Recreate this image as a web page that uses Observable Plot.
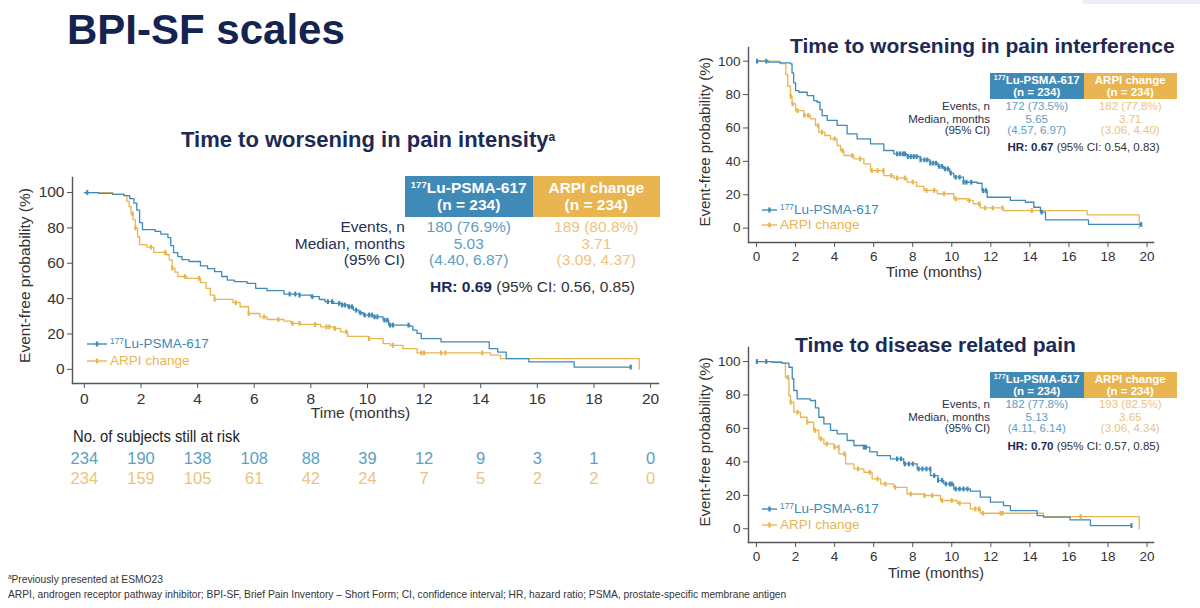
<!DOCTYPE html>
<html>
<head>
<meta charset="utf-8">
<script src="https://cdn.jsdelivr.net/npm/d3@7"></script>
<script src="https://cdn.jsdelivr.net/npm/@observablehq/plot@0.6"></script>
<style>
  html, body { margin: 0; padding: 0; background: #fff; }
  body { position: relative; width: 1200px; height: 608px; overflow: hidden;
         font-family: "Liberation Sans", Arial, sans-serif; color: #333; }
  .abs { position: absolute; white-space: nowrap; line-height: 1; }
  .sup { font-size: 0.62em; vertical-align: 0.5em; }
  .hdr { position: absolute; display: flex; flex-direction: column; justify-content: center;
         align-items: center; color: #fff; font-weight: bold; line-height: 1.05; }
  .narrow { transform-origin: 0 0; }
</style>
</head>
<body>
<div id="root"></div>
<script>
// ---------- shared values ----------
const months = [0, 2, 4, 6, 8, 10, 12, 14, 16, 18, 20];
const probTicks = [0, 20, 40, 60, 80, 100];
const atRiskLu = [234, 190, 138, 108, 88, 39, 12, 9, 3, 1, 0];
const atRiskArpi = [234, 159, 105, 61, 42, 24, 7, 5, 2, 2, 0];

// ---------- Time to worsening in pain intensity ----------
const intensityLuT = [0, 0.5, 1.0, 1.4, 1.6, 1.75, 1.85, 1.95, 2.05, 2.5, 2.7, 2.95, 3.05, 3.15, 3.3, 3.45, 3.7, 4.1, 4.35, 4.6, 4.85, 5.05, 5.3, 5.75, 6.05, 6.45, 7.05, 7.6, 8.0, 8.3, 8.5, 8.8, 9.1, 9.3, 9.5, 9.7, 9.85, 10.2, 10.55, 10.75, 11.5, 11.6, 11.75, 11.9, 12.6, 14.3, 14.6, 14.9, 15.7, 17.3, 19.3];
const intensityLuS = [100, 99.5, 99, 98.3, 96.5, 94, 90, 83, 79, 78, 76.5, 74.5, 70, 66, 63.8, 62, 61, 58.5, 57, 55.3, 52.5, 50.5, 49.6, 48.6, 45.8, 44.5, 42.6, 42, 41.1, 39.5, 38.3, 37.3, 36.4, 35.4, 33.5, 32, 30.7, 29.7, 27.8, 25, 24.4, 22.2, 20.3, 17.4, 15.5, 11.7, 9.8, 6.1, 4.2, 1.3, 1.3];
const intensityLuCens = [0.1, 7.25, 7.45, 7.6, 8.05, 8.6, 8.75, 9.0, 9.1, 9.2, 9.35, 9.45, 9.6, 9.75, 9.9, 10.05, 10.15, 10.25, 10.35, 10.6, 10.7, 10.8, 10.9, 11.45, 19.3];
const intensityArT = [0, 1.0, 1.4, 1.5, 1.58, 1.65, 1.72, 1.8, 1.88, 1.95, 2.2, 2.45, 2.9, 3.0, 3.1, 3.2, 3.3, 3.62, 4.1, 4.3, 4.45, 4.6, 5.25, 5.5, 5.8, 6.2, 6.45, 7.05, 7.3, 7.65, 8.35, 8.8, 9.05, 9.3, 10.05, 10.55, 10.8, 11.25, 11.75, 14.35, 14.7, 19.6];
const intensityArS = [100, 99, 98.3, 95, 92, 88, 84.7, 80, 75, 70.5, 69.1, 66.1, 64.8, 61.9, 57.2, 55, 52.5, 51.5, 49, 45.8, 42, 39.6, 37.7, 35.4, 31.6, 29.7, 28.2, 27.3, 26, 25.4, 24, 23.1, 21.2, 18.6, 17.4, 14.6, 13.6, 11.7, 9.3, 8, 6.1, 0];
const intensityArCens = [1.7, 1.8, 2.35, 2.85, 3.1, 3.55, 4.05, 4.6, 5.35, 5.8, 6.35, 6.85, 7.35, 7.6, 8.15, 8.55, 8.65, 8.85, 9.25, 10.05, 10.9, 11.9, 12.0, 12.6, 12.75, 14.05];

// ---------- Time to worsening in pain interference ----------
const interferenceLuT = [0, 0.6, 1.2, 1.74, 1.82, 1.9, 2.0, 2.17, 2.6, 2.93, 3.1, 3.25, 3.36, 3.62, 4.13, 4.64, 5.15, 5.84, 6.52, 7.03, 7.71, 8.4, 8.9, 9.3, 9.59, 9.9, 10.1, 10.6, 11.3, 11.55, 11.81, 13.0, 13.77, 14.2, 14.54, 14.8, 17.0, 19.7];
const interferenceLuS = [100, 99.5, 99, 98.4, 93, 87, 82.4, 81.4, 79.4, 76.4, 75.4, 71, 67.4, 64.5, 61.5, 56.5, 53.5, 50.5, 46.5, 44.5, 42.9, 40.9, 38.9, 37, 35.5, 33, 30.5, 27.5, 26.9, 22.5, 18.5, 16.6, 15.5, 12.5, 9.6, 5, 2.2, 2.2];
const interferenceLuCens = [0.03, 0.5, 7.2, 7.35, 7.5, 7.6, 7.75, 7.9, 8.05, 8.2, 8.4, 8.6, 8.75, 8.9, 9.05, 9.2, 9.35, 9.5, 9.65, 9.8, 9.95, 10.2, 10.4, 10.6, 10.75, 11.0, 11.6, 11.75, 14.6, 19.7];
const interferenceArT = [0, 1.2, 1.5, 1.6, 1.74, 1.82, 2.0, 2.42, 2.76, 3.02, 3.19, 3.5, 3.79, 4.13, 4.3, 4.47, 4.99, 5.5, 5.84, 6.52, 7.03, 7.71, 8.2, 8.57, 9.25, 10.1, 10.78, 11.1, 11.46, 12.65, 16.93, 19.6];
const interferenceArS = [100, 98.5, 92, 85, 79, 74.4, 70.4, 67.5, 65.5, 61.5, 57.5, 55.5, 53.5, 49.5, 46.5, 43.5, 41.5, 38.5, 34.5, 31.5, 30, 27.6, 25, 22.6, 20.6, 17.6, 16.6, 14.6, 12.1, 10.5, 8, 0];
const interferenceArCens = [1.75, 1.85, 2.1, 2.45, 2.65, 3.15, 3.35, 4.0, 4.4, 4.9, 5.3, 5.9, 6.2, 6.5, 6.9, 7.2, 7.6, 8.0, 8.7, 9.1, 9.6, 10.2, 10.9, 11.4, 11.7, 12.1, 12.6, 14.1];

// ---------- Time to disease related pain ----------
const diseaseLuT = [0, 0.8, 1.3, 1.66, 1.83, 1.91, 2.08, 2.76, 3.02, 3.19, 3.45, 3.79, 4.13, 4.64, 4.99, 5.5, 5.8, 6.18, 6.86, 7.54, 8.23, 8.91, 9.3, 9.59, 10.1, 10.95, 11.46, 11.98, 12.65, 13.0, 14.37, 14.7, 16.06, 17.1, 19.2];
const diseaseLuS = [100, 99.5, 99, 96.6, 89.7, 82.7, 77.7, 76.7, 72.3, 66.7, 62.7, 58.8, 56.8, 52.8, 49.8, 48.8, 46, 43.8, 41.8, 38.8, 35.8, 31.8, 29, 26.8, 23.8, 22.5, 18.9, 15.9, 13.9, 10.9, 7.9, 7, 5.3, 1.9, 1.9];
const diseaseLuCens = [0.02, 0.5, 5.5, 5.6, 7.2, 7.4, 7.6, 7.8, 8.0, 8.3, 8.5, 8.7, 8.9, 9.1, 9.3, 9.5, 9.7, 9.9, 10.0, 10.2, 10.4, 10.6, 10.8, 19.2];
const diseaseArT = [0, 1.3, 1.48, 1.66, 1.74, 1.91, 2.25, 2.59, 2.93, 3.19, 3.45, 3.96, 4.22, 4.56, 4.99, 5.5, 5.92, 6.35, 7.03, 7.71, 8.57, 9.42, 10.27, 10.95, 11.46, 14.7, 19.6];
const diseaseArS = [100, 99, 90.6, 79.7, 75.7, 69.7, 66.7, 63.7, 58.8, 53.8, 50.8, 48.8, 44.8, 38.8, 35.8, 33.8, 29.8, 26.8, 24.8, 20.8, 19.9, 16.9, 15.3, 11.9, 9.3, 7.3, 0];
const diseaseArCens = [1.6, 1.75, 2.1, 2.6, 3.0, 3.3, 3.6, 4.0, 4.2, 4.5, 5.2, 5.8, 6.2, 6.6, 7.1, 7.9, 8.6, 9.0, 9.5, 10.0, 10.4, 11.2, 11.4, 11.6, 12.5, 12.6, 16.6];

// ---------- summary tables ----------
const tableRowLabels = ["Events, n", "Median, months", "(95% CI)"];
const intensityLuStats = ["180 (76.9%)", "5.03", "(4.40, 6.87)"];
const intensityArStats = ["189 (80.8%)", "3.71", "(3.09, 4.37)"];
const intensityHR = ["0.69", "0.56, 0.85"];
const interferenceLuStats = ["172 (73.5%)", "5.65", "(4.57, 6.97)"];
const interferenceArStats = ["182 (77.8%)", "3.71", "(3.06, 4.40)"];
const interferenceHR = ["0.67", "0.54, 0.83"];
const diseaseLuStats = ["182 (77.8%)", "5.13", "(4.11, 6.14)"];
const diseaseArStats = ["193 (82.5%)", "3.65", "(3.06, 4.34)"];
const diseaseHR = ["0.70", "0.57, 0.85"];

const BLUE = "#3f8ab6", ORANGE = "#e9b551";
const BLUE_TXT = "#5d9ec6", ORANGE_TXT = "#ecc47c";
const NAVY = "#1c2a55";
const FONT = "'Liberation Sans', Arial, sans-serif";

const root = document.getElementById("root");
function el(html, style) {
  const d = document.createElement("div");
  d.className = "abs";
  d.innerHTML = html;
  Object.assign(d.style, style);
  root.appendChild(d);
  return d;
}
function place(node, left, top) {
  const w = document.createElement("div");
  w.style.position = "absolute"; w.style.left = left + "px"; w.style.top = top + "px";
  w.appendChild(node);
  root.appendChild(w);
}

// value of a step survival curve at time t
function stepAt(ts, ss, t) {
  let v = ss[0];
  for (let i = 0; i < ts.length; i++) { if (ts[i] <= t) v = ss[i]; else break; }
  return v;
}
// short vertical stroke used for censoring marks
const censorTick = { draw(ctx, size) { const r = Math.sqrt(size / Math.PI); ctx.moveTo(0, -r); ctx.lineTo(0, r); } };

function kmPlot(c) {
  const rows = (ts, ss, arm) => ts.map((t, i) => ({ t, s: ss[i], arm }));
  const curves = [...rows(c.arT, c.arS, "ar"), ...rows(c.luT, c.luS, "lu")];
  const cens = [
    ...c.arC.map(t => ({ t, s: stepAt(c.arT, c.arS, t), arm: "ar" })),
    ...c.luC.map(t => ({ t, s: stepAt(c.luT, c.luS, t), arm: "lu" }))
  ];
  return Plot.plot({
    width: c.width, height: c.height,
    marginLeft: c.ml, marginRight: c.mr, marginTop: c.mt, marginBottom: c.mb,
    x: { domain: c.xDomain },
    y: { domain: c.yDomain },
    color: { domain: ["lu", "ar"], range: [BLUE, ORANGE] },
    style: { fontFamily: FONT, fontSize: c.tickFont + "px", color: "#333", background: "transparent", overflow: "visible" },
    marks: [
      Plot.frame({ anchor: "bottom", stroke: "#555", strokeWidth: 1.4 }),
      Plot.frame({ anchor: "left", stroke: "#555", strokeWidth: 1.4 }),
      Plot.axisX({ ticks: months, tickSize: 5, tickPadding: 4, label: null, stroke: "#555" }),
      Plot.axisY({ ticks: probTicks, tickSize: 5, tickPadding: 3, label: null, stroke: "#555" }),
      Plot.text(["Time (months)"], { frameAnchor: "bottom", lineAnchor: "middle", textAnchor: "middle", dx: c.xLabelDx, dy: c.xLabelDy, text: d => d, fontSize: c.labelFont, fill: "#333" }),
      Plot.text(["Event-free probability (%)"], { frameAnchor: "left", textAnchor: "middle", lineAnchor: "middle", dx: c.yLabelDx, dy: c.yLabelDy, rotate: -90, text: d => d, fontSize: c.labelFont, fill: "#333" }),
      Plot.line(curves, { x: "t", y: "s", z: "arm", stroke: "arm", curve: "step-after", strokeWidth: 1.3 }),
      Plot.dot(cens, { x: "t", y: "s", stroke: "arm", symbol: censorTick, r: 2.4, strokeWidth: 2.2 })
    ]
  });
}

// ---------- slide title ----------
el("BPI-SF scales", { left: "67px", top: "9px", fontSize: "42px", fontWeight: "bold", color: "#152350" });

// ---------- main chart ----------
el("Time to worsening in pain intensity<span class='sup' style='font-size:0.55em'>a</span>",
   { left: "181px", top: "129px", fontSize: "22px", fontWeight: "bold", color: NAVY });

place(kmPlot({
  width: 680, height: 260, ml: 72, mr: 22, mt: 7, mb: 47,
  xDomain: [-0.42, 20.28], yDomain: [-8, 108.5],
  tickFont: 15.5, labelFont: 15.5, xLabelDx: -5, xLabelDy: 30, yLabelDx: -47, yLabelDy: -5,
  luT: intensityLuT, luS: intensityLuS, luC: intensityLuCens,
  arT: intensityArT, arS: intensityArS, arC: intensityArCens
}), 0, 170);

// at-risk counts share the main chart's x scale
const atRiskRows = [
  ...months.map((m, i) => ({ m, n: atRiskLu[i], arm: "lu" })),
  ...months.map((m, i) => ({ m, n: atRiskArpi[i], arm: "ar" }))
];
place(Plot.plot({
  width: 680, height: 44, marginLeft: 72, marginRight: 22, marginTop: 0, marginBottom: 0,
  x: { domain: [-0.42, 20.28], axis: null },
  y: { type: "point", domain: ["lu", "ar"], range: [12, 32], padding: 0, axis: null },
  color: { domain: ["lu", "ar"], range: [BLUE_TXT, ORANGE_TXT] },
  style: { fontFamily: FONT, background: "transparent" },
  marks: [Plot.text(atRiskRows, { x: "m", y: "arm", text: "n", fill: "arm", fontSize: 16.5 })]
}), 0, 446);
el("No. of subjects still at risk", { left: "73px", top: "428px", fontSize: "17px", color: "#222", transform: "scaleX(0.87)" }).classList.add("narrow");

// ---------- summary tables and legends ----------
function statsTable(o) {
  const s = o.font;
  const colW = o.colW;
  const hdr = (x, bg, name) => {
    const d = document.createElement("div");
    d.className = "hdr";
    Object.assign(d.style, { left: x + "px", top: o.boxTop + "px", width: colW + "px", height: o.boxH + "px", background: bg, fontSize: s + "px" });
    d.innerHTML = name;
    root.appendChild(d);
  };
  hdr(o.x, BLUE, "<div><span class='sup'>177</span>Lu-PSMA-617</div><div>(n = 234)</div>");
  hdr(o.x + colW, ORANGE, "<div>ARPI change</div><div>(n = 234)</div>");
  tableRowLabels.forEach((lab, i) => {
    const top = o.rowY[i] - 0.49 * s;
    el(lab, { right: (1200 - o.x) + "px", top: top + "px", fontSize: s + "px", color: "#27304e" });
    el(o.lu[i], { left: o.x + "px", width: colW + "px", textAlign: "center", top: top + "px", fontSize: s + "px", color: BLUE_TXT });
    el(o.ar[i], { left: (o.x + colW) + "px", width: colW + "px", textAlign: "center", top: top + "px", fontSize: s + "px", color: ORANGE_TXT });
  });
  el(`<b style="color:${NAVY}">HR: ${o.hr[0]}</b> (95% CI: ${o.hr[1]})`,
     { left: o.x + "px", width: (2 * colW) + "px", textAlign: "center", top: (o.hrY - 0.49 * s) + "px", fontSize: s + "px", color: "#333" });
}
function legend(x, y1, y2, font, lineW) {
  const item = (y, color, label) => {
    el(`<svg width="${lineW}" height="10" style="vertical-align:middle;overflow:visible"><line x1="0" y1="5" x2="${lineW}" y2="5" stroke="${color}" stroke-width="1.4"/><line x1="${lineW / 2}" y1="2.5" x2="${lineW / 2}" y2="7.5" stroke="${color}" stroke-width="2.4"/></svg><span style="margin-left:3px">${label}</span>`,
       { left: x + "px", top: (y - 0.55 * font) + "px", fontSize: font + "px", color });
  };
  item(y1, BLUE, "<span class='sup'>177</span>Lu-PSMA-617");
  item(y2, ORANGE, "ARPI change");
}

statsTable({ x: 405, colW: 127.5, boxTop: 176, boxH: 41, font: 15.5, rowY: [227, 244, 260], hrY: 287,
             lu: intensityLuStats, ar: intensityArStats, hr: intensityHR });
legend(87, 344, 361, 13.5, 20);

// ---------- top right chart ----------
el("Time to worsening in pain interference", { left: "790px", top: "35px", fontSize: "21px", fontWeight: "bold", color: NAVY });
place(kmPlot({
  width: 510, height: 250, ml: 58, mr: 47, mt: 7, mb: 48,
  xDomain: [-0.41, 20.33], yDomain: [-8.6, 108.2],
  tickFont: 13.5, labelFont: 15, xLabelDx: -17, xLabelDy: 30, yLabelDx: -43, yLabelDy: -3,
  luT: interferenceLuT, luS: interferenceLuS, luC: interferenceLuCens,
  arT: interferenceArT, arS: interferenceArS, arC: interferenceArCens
}), 690, 40);
statsTable({ x: 990, colW: 93.5, boxTop: 73, boxH: 26, font: 11.5, rowY: [107, 120, 131], hrY: 148,
             lu: interferenceLuStats, ar: interferenceArStats, hr: interferenceHR });
legend(762, 210, 225, 13.5, 15);

// ---------- bottom right chart ----------
el("Time to disease related pain", { left: "795px", top: "334px", fontSize: "21px", fontWeight: "bold", color: NAVY });
place(kmPlot({
  width: 510, height: 250, ml: 58, mr: 47, mt: 7, mb: 48,
  xDomain: [-0.41, 20.33], yDomain: [-8.2, 108.4],
  tickFont: 13.5, labelFont: 15, xLabelDx: -15, xLabelDy: 31, yLabelDx: -43, yLabelDy: -3,
  luT: diseaseLuT, luS: diseaseLuS, luC: diseaseLuCens,
  arT: diseaseArT, arS: diseaseArS, arC: diseaseArCens
}), 690, 340);
statsTable({ x: 990, colW: 93.5, boxTop: 372, boxH: 26, font: 11.5, rowY: [405, 418, 429], hrY: 447,
             lu: diseaseLuStats, ar: diseaseArStats, hr: diseaseHR });
legend(762, 509, 525, 13.5, 15);

// ---------- footnotes ----------
el("<span class='sup'>a</span>Previously presented at ESMO23", { left: "8px", top: "574px", fontSize: "11.5px", color: "#333", transform: "scaleX(0.89)" }).classList.add("narrow");
el("ARPI, androgen receptor pathway inhibitor; BPI-SF, Brief Pain Inventory – Short Form; CI, confidence interval; HR, hazard ratio; PSMA, prostate-specific membrane antigen",
   { left: "8px", top: "589px", fontSize: "11.5px", color: "#333", transform: "scaleX(0.89)" }).classList.add("narrow");
el("", { left: "1082px", top: "0px", width: "118px", height: "4px", background: "#eceef8" });
</script>
</body>
</html>
